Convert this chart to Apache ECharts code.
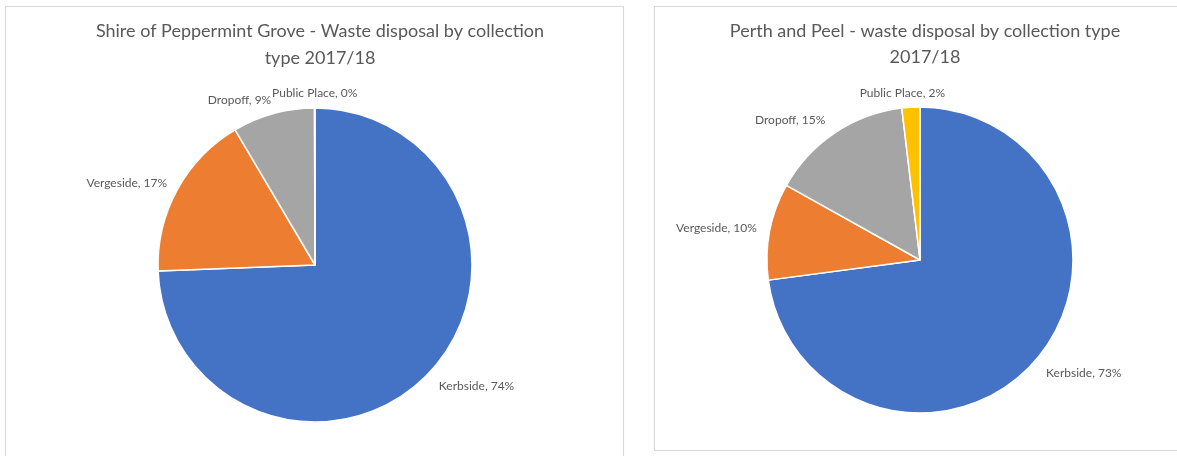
<!DOCTYPE html>
<html>
<head>
<meta charset="utf-8">
<script src="https://cdn.jsdelivr.net/npm/echarts@6/dist/echarts.min.js"></script>
<style>
html,body{margin:0;padding:0;background:#fff;}
#c{width:1177px;height:456px;}
</style>
</head>
<body>
<div id="c"></div>
<script>
var categories = ['Kerbside', 'Vergeside', 'Dropoff', 'Public Place'];
var leftValues = [74.4, 17.1, 8.45, 0.05];
var rightValues = [72.9, 10.2, 15.0, 1.9];
var leftTitle = 'Shire of Peppermint Grove - Waste disposal by collection\ntype 2017/18';
var rightTitle = 'Perth and Peel - waste disposal by collection type\n2017/18';
var colors = ['#4472C4', '#ED7D31', '#A5A5A5', '#FFC000'];

var FONT = 'Lato, "Open Sans", sans-serif';
function mk(vals){ return categories.map(function(c,i){ return {name:c, value:vals[i]}; }); }

var labelShift = {
  left:  [[0, 7], [2, -3], [5, -6], [5, -7]],
  right: [[0, 7], [0, -2], [0, -6], [-3, -6]]
};

function pieSeries(vals, center, radius, side){
  return {
    type:'pie',
    center:center,
    radius:radius,
    startAngle:90,
    clockwise:true,
    avoidLabelOverlap:false,
    percentPrecision:0,
    animation:false,
    data:mk(vals),
    itemStyle:{borderColor:'#fff', borderWidth:1.5},
    label:{show:true, position:'outside', formatter:'{b}, {d}%', color:'#595959', fontSize:12, fontFamily:FONT},
    labelLine:{show:false, length:8, length2:0},
    labelLayout:function(p){
      var s = labelShift[side][p.dataIndex];
      var dx = s[0];
      if(p.dataIndex===3){ dx += p.labelRect.width/2; }
      return {dx:dx, dy:s[1]};
    },
    emphasis:{disabled:true}
  };
}

var chart = echarts.init(document.getElementById('c'), null, {renderer:'canvas'});
chart.setOption({
  color:colors,
  backgroundColor:'#fff',
  title:[
    {text:leftTitle, left:315, top:13, textAlign:'center', textStyle:{color:'#595959', fontSize:18, fontWeight:'normal', fontFamily:FONT, lineHeight:27}},
    {text:rightTitle, left:920, top:13, textAlign:'center', textStyle:{color:'#595959', fontSize:18, fontWeight:'normal', fontFamily:FONT, lineHeight:26}}
  ],
  graphic:[
    {type:'rect', shape:{x:5.5, y:6.5, width:618, height:470}, style:{fill:'none', stroke:'#D9D9D9', lineWidth:1.2}, z:-1},
    {type:'rect', shape:{x:654.5, y:6.5, width:540, height:444}, style:{fill:'none', stroke:'#D9D9D9', lineWidth:1.2}, z:-1}
  ],
  series:[
    pieSeries(leftValues, [315, 265], 157, 'left'),
    pieSeries(rightValues, [920, 260], 153, 'right')
  ]
});
</script>
</body>
</html>
